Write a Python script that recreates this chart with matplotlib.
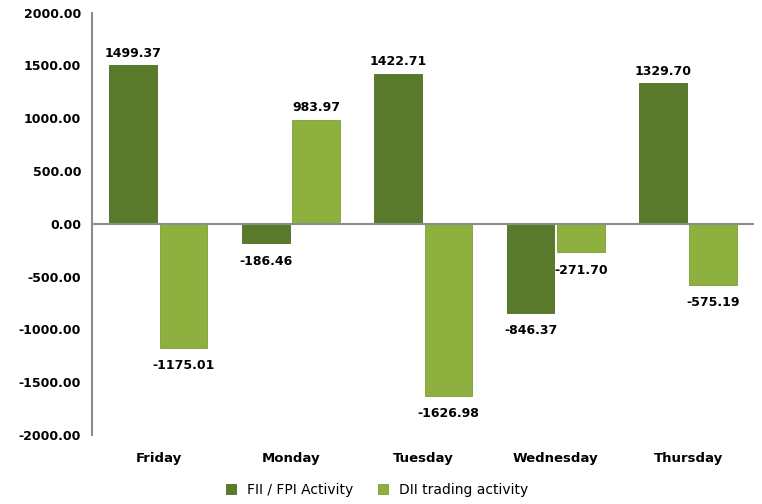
import numpy as np
import matplotlib.pyplot as plt

# Data
days = ['Friday', 'Monday', 'Tuesday', 'Wednesday', 'Thursday']
fii = [1499.37, -186.46, 1422.71, -846.37, 1329.70]
dii = [-1175.01, 983.97, -1626.98, -271.70, -575.19]
yticks = [-2000, -1500, -1000, -500, 0, 500, 1000, 1500, 2000]

dark = '#5a7a2b'
light = '#8db03f'

fig, ax = plt.subplots(figsize=(7.62, 5.04), dpi=100)
fig.subplots_adjust(left=0.121, right=0.99, top=0.975, bottom=0.137)

x = np.arange(len(days))
w = 0.36
b1 = ax.bar(x - w / 2 - 0.01, fii, w, color=dark, edgecolor='#4e6a24', linewidth=0.6,
            label='FII / FPI Activity', zorder=2)
b2 = ax.bar(x + w / 2 + 0.01, dii, w, color=light, edgecolor='#7c9e36', linewidth=0.6,
            label='DII trading activity', zorder=2)

# Value labels
for bars in (b1, b2):
    for bar in bars:
        v = bar.get_height()
        cx = bar.get_x() + bar.get_width() / 2
        if v >= 0:
            ax.annotate(f'{v:.2f}', (cx, v), xytext=(0, 4), textcoords='offset points',
                        ha='center', va='bottom', fontsize=9, fontweight='bold')
        else:
            ax.annotate(f'{v:.2f}', (cx, v), xytext=(0, -8), textcoords='offset points',
                        ha='center', va='top', fontsize=9, fontweight='bold')

ax.set_ylim(-2000, 2000)
ax.set_xlim(-0.5, len(days) - 0.5)
ax.set_yticks(yticks)
ax.set_yticklabels([f'{t:.2f}' for t in yticks], fontsize=9, fontweight='bold')
ax.set_xticks(x)
ax.set_xticklabels(days, fontsize=9.5, fontweight='bold')
ax.tick_params(axis='both', length=0, pad=8)
ax.tick_params(axis='x', pad=12)

ax.axhline(0, color='#8c8c8c', linewidth=1.5, zorder=3)
for s in ['top', 'right', 'bottom']:
    ax.spines[s].set_visible(False)
ax.spines['left'].set_color('#8c8c8c')
ax.spines['left'].set_linewidth(1.5)

ax.legend(loc='center', bbox_to_anchor=(0.43, -0.13), ncol=2, frameon=False,
          fontsize=10, handlelength=0.7, handleheight=0.7, columnspacing=1.8)

plt.savefig('out.png')
